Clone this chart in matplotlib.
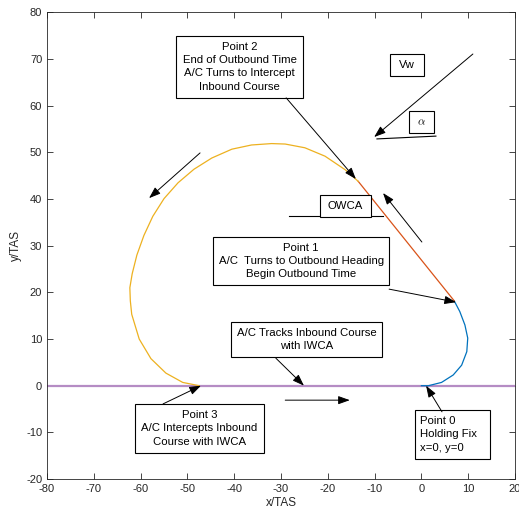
import matplotlib
matplotlib.use('Agg')
import matplotlib.pyplot as plt
from matplotlib.patches import Rectangle

plt.rcParams['font.family'] = ['Liberation Sans', 'DejaVu Sans']
plt.rcParams['mathtext.fontset'] = 'cm'
plt.rcParams['axes.unicode_minus'] = False

# inbound course (purple), turn 1 (blue), outbound leg (orange), turn 2 (yellow)
course_x = [-80, 20]
course_y = [0, 0]

turn1_x = [0.0, 1.5, 4.3, 6.8, 8.6, 9.7, 9.9, 9.3, 8.2, 7.0]
turn1_y = [0.0, 0.0, 0.7, 2.3, 4.4, 7.3, 10.2, 13.0, 15.9, 18.2]

outbound_x = [7.0, -13.5]
outbound_y = [18.2, 43.8]

turn2_x = [-13.5, -16.3, -20.6, -24.9, -29.1, -32.0, -36.3, -40.5, -44.8, -48.6, -52.0,
           -55.0, -57.4, -59.3, -60.8, -61.8, -62.3, -62.2, -61.9, -60.3, -57.8, -54.6,
           -51.0, -47.5]
turn2_y = [43.8, 46.3, 49.2, 51.0, 51.8, 51.9, 51.6, 50.7, 48.8, 46.4, 43.5,
           40.1, 36.3, 32.2, 28.0, 24.0, 21.0, 18.2, 15.3, 10.0, 5.8, 2.7,
           0.7, 0.0]

xticks = list(range(-80, 21, 10))
yticks = list(range(-20, 81, 10))

GRAY = '#262626'

fig = plt.figure(figsize=(5.19, 5.14), dpi=100)
ax = fig.add_axes([0.0906, 0.0681, 0.9017, 0.9076])

ax.plot(course_x, course_y, color='#B58CC4', lw=1.6, zorder=2)
ax.plot(turn1_x, turn1_y, color='#0072BD', lw=0.9, zorder=3)
ax.plot(outbound_x, outbound_y, color='#D95319', lw=0.9, zorder=3)
ax.plot(turn2_x, turn2_y, color='#EDB120', lw=0.9, zorder=3)

ax.set_xlim(-80, 20)
ax.set_ylim(-20, 80)
ax.set_xticks(xticks)
ax.set_yticks(yticks)
ax.tick_params(direction='in', top=True, right=True, length=4, width=0.6,
               labelsize=8, colors=GRAY)
for s in ax.spines.values():
    s.set_color(GRAY)
    s.set_linewidth(0.6)
ax.set_xlabel('x/TAS', fontsize=8.5, color=GRAY, labelpad=2)
ax.set_ylabel('y/TAS', fontsize=8.5, color=GRAY, labelpad=3)


def box(x0, x1, y0, y1, text, ha='center'):
    ax.add_patch(Rectangle((x0, y0), x1 - x0, y1 - y0, fill=True, facecolor='white',
                           edgecolor='k', lw=0.8, zorder=5))
    tx = (x0 + x1) / 2 if ha == 'center' else x0 + 1.0
    ax.text(tx, (y0 + y1) / 2, text, ha=ha, va='center', fontsize=8.2,
            linespacing=1.4, zorder=6)


def arrow(x0, y0, x1, y1):
    ax.annotate('', xy=(x1, y1), xytext=(x0, y0), zorder=7,
                arrowprops=dict(arrowstyle='-|>,head_length=0.7,head_width=0.25',
                                color='k', lw=0.7, shrinkA=0, shrinkB=0))


def line(x0, y0, x1, y1):
    ax.plot([x0, x1], [y0, y1], color='k', lw=0.8, zorder=4)


box(-52.4, -25.3, 61.7, 75.0,
    'Point 2\nEnd of Outbound Time\nA/C Turns to Intercept\nInbound Course')
arrow(-28.9, 61.7, -14.0, 44.3)

box(-6.7, 0.55, 66.4, 71.1, 'Vw')
arrow(11.0, 71.1, -10.1, 53.3)

box(-2.65, 2.7, 54.2, 58.9, r'$\alpha$')
line(-9.5, 52.9, 3.1, 53.5)

box(-21.7, -10.8, 36.2, 40.9, 'OWCA')
line(-28.3, 36.4, -8.2, 36.4)

arrow(0.1, 30.8, -8.2, 41.3)
arrow(-47.3, 49.9, -58.2, 40.2)

box(-44.5, -6.9, 21.6, 31.9,
    'Point 1\nA/C  Turns to Outbound Heading\nBegin Outbound Time')
arrow(-6.9, 20.7, 7.4, 17.9)

box(-40.7, -8.4, 6.1, 13.6, 'A/C Tracks Inbound Course\nwith IWCA')
arrow(-31.1, 5.9, -25.1, 0.0)

arrow(-29.1, -3.1, -15.3, -3.1)

box(-61.2, -33.6, -14.4, -3.9, 'Point 3\nA/C Intercepts Inbound\nCourse with IWCA')
arrow(-55.2, -3.9, -47.1, 0.0)

box(-1.4, 14.7, -15.7, -5.2, 'Point 0\nHolding Fix\nx=0, y=0', ha='left')
arrow(4.4, -5.6, 1.0, 0.0)

fig.savefig('out.png', dpi=100)
